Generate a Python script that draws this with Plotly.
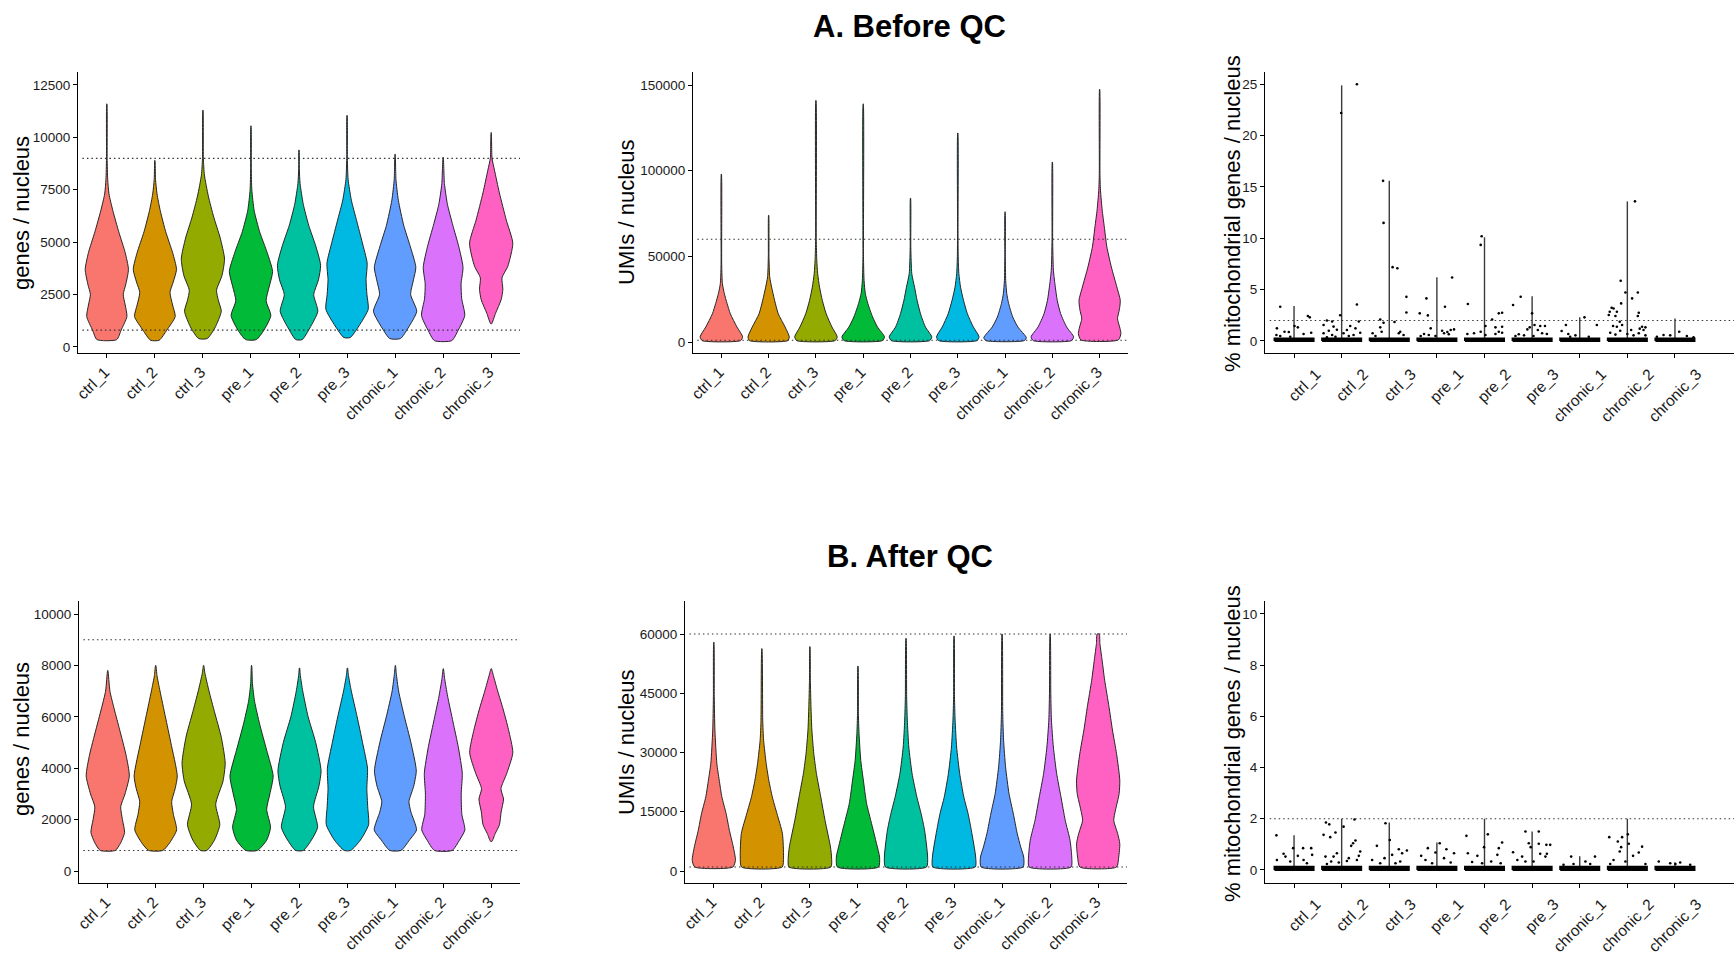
import plotly.graph_objects as go

W, H = 1734, 956

samples = ["ctrl_1", "ctrl_2", "ctrl_3", "pre_1", "pre_2", "pre_3",
           "chronic_1", "chronic_2", "chronic_3"]
colors = ["#F8766D", "#D39200", "#93AA00", "#00BA38", "#00C19F",
          "#00B9E3", "#619CFF", "#DB72FB", "#FF61C3"]

# ---- violin density profiles: value levels and relative half-widths (1 = widest) ----
genes_before_y = [
    [350, 800, 1450, 2000, 2500, 3000, 3700, 4500, 5500, 6500, 7300, 8000, 9000, 11600],
    [320, 800, 1450, 2000, 2600, 3100, 3700, 4500, 5500, 6500, 7300, 8000, 8900],
    [400, 900, 1700, 2200, 2700, 3400, 4200, 5200, 6200, 7200, 8200, 9000, 11300],
    [350, 800, 1500, 2200, 2900, 3600, 4500, 5500, 6500, 7500, 8500, 10550],
    [350, 900, 1700, 2500, 3200, 3900, 4800, 5800, 6800, 7800, 8500, 9400],
    [450, 1000, 1800, 2500, 3200, 4000, 5000, 6000, 7000, 8000, 9000, 11050],
    [400, 900, 1700, 2500, 3200, 3800, 4800, 5800, 7000, 8000, 9200],
    [300, 800, 1500, 2300, 3000, 3800, 4800, 5800, 6800, 7800, 9050],
    [1100, 1600, 2250, 2750, 3300, 3850, 4950, 6050, 7350, 8450, 9000, 10230],
]
genes_before_w = [
    [0.46, 0.66, 0.93, 0.85, 0.76, 0.88, 1.0, 0.85, 0.55, 0.28, 0.1, 0.04, 0.015, 0.004],
    [0.2, 0.55, 0.94, 0.82, 0.7, 0.85, 1.0, 0.82, 0.5, 0.25, 0.1, 0.03, 0.004],
    [0.2, 0.55, 0.85, 0.72, 0.63, 0.88, 1.0, 0.8, 0.5, 0.25, 0.07, 0.02, 0.004],
    [0.25, 0.6, 0.92, 0.7, 0.85, 1.0, 0.75, 0.4, 0.15, 0.04, 0.015, 0.004],
    [0.15, 0.5, 0.87, 0.68, 0.9, 1.0, 0.78, 0.45, 0.2, 0.05, 0.015, 0.004],
    [0.15, 0.55, 0.98, 0.92, 0.88, 0.93, 0.7, 0.45, 0.2, 0.05, 0.015, 0.004],
    [0.25, 0.6, 1.0, 0.72, 0.85, 0.96, 0.7, 0.4, 0.15, 0.04, 0.004],
    [0.4, 0.7, 1.0, 0.86, 0.83, 0.92, 0.72, 0.45, 0.2, 0.06, 0.004],
    [0.02, 0.2, 0.46, 0.54, 0.5, 0.77, 1.0, 0.7, 0.38, 0.15, 0.04, 0.004],
]

umis_before_y = [
    [800, 3000, 8800, 16500, 22400, 28200, 34000, 45000, 98000],
    [800, 3000, 8800, 16500, 24300, 32000, 38000, 50000, 74000],
    [800, 3000, 8800, 16500, 24300, 32000, 40000, 47700, 60000, 141000],
    [800, 3000, 8800, 14600, 22400, 28200, 36000, 50000, 139000],
    [800, 3000, 8800, 16500, 24300, 32000, 40000, 55000, 84000],
    [800, 3000, 8800, 16500, 24300, 32000, 40000, 50000, 65000, 122000],
    [800, 2500, 8800, 14600, 22400, 28200, 36000, 50000, 76000],
    [800, 3000, 8800, 16500, 24300, 32000, 41900, 60000, 105000],
    [1200, 4900, 8800, 13600, 19000, 24300, 32100, 43800, 55500, 67200, 77000, 88600, 98400, 147500],
]
umis_before_w = [
    [0.9, 1.0, 0.73, 0.42, 0.27, 0.14, 0.05, 0.015, 0.004],
    [0.9, 0.97, 0.77, 0.45, 0.28, 0.14, 0.05, 0.015, 0.004],
    [0.9, 1.0, 0.75, 0.48, 0.3, 0.17, 0.08, 0.04, 0.015, 0.004],
    [0.9, 1.0, 0.67, 0.44, 0.22, 0.1, 0.04, 0.012, 0.004],
    [0.9, 1.0, 0.7, 0.47, 0.31, 0.19, 0.06, 0.015, 0.004],
    [0.9, 1.0, 0.73, 0.45, 0.27, 0.13, 0.05, 0.02, 0.01, 0.004],
    [0.9, 1.0, 0.6, 0.36, 0.17, 0.08, 0.03, 0.012, 0.004],
    [0.9, 1.0, 0.67, 0.39, 0.23, 0.14, 0.05, 0.015, 0.004],
    [0.88, 1.0, 0.94, 0.84, 0.93, 0.97, 0.81, 0.55, 0.34, 0.22, 0.12, 0.04, 0.015, 0.004],
]

genes_after_y = [
    [800, 1100, 1500, 2000, 2500, 3000, 3700, 4500, 5500, 6300, 7000, 7800],
    [800, 1100, 1600, 2200, 2700, 3200, 3700, 5000, 6000, 7000, 7600, 8000],
    [800, 1200, 1800, 2600, 3500, 4200, 5200, 6200, 7000, 7700, 8000],
    [800, 1200, 1700, 2400, 3000, 3700, 4700, 5700, 6600, 7300, 8000],
    [800, 1200, 1700, 2500, 3300, 3900, 5000, 6000, 7000, 7600, 7900],
    [800, 1200, 1800, 2500, 3200, 4000, 5000, 6000, 7000, 7600, 7900],
    [800, 1200, 1600, 2300, 2700, 3300, 3900, 5000, 6000, 7000, 7700, 8000],
    [800, 1200, 1600, 2200, 3000, 3800, 4800, 5800, 6800, 7500, 7870],
    [1150, 1450, 1800, 2300, 2800, 3200, 3800, 4600, 5500, 6300, 7000, 7600, 7870],
]
genes_after_w = [
    [0.35, 0.6, 0.78, 0.68, 0.6, 0.8, 1.0, 0.85, 0.55, 0.3, 0.1, 0.006],
    [0.33, 0.65, 0.97, 0.82, 0.74, 0.9, 1.0, 0.7, 0.45, 0.2, 0.06, 0.006],
    [0.15, 0.5, 0.75, 0.56, 0.9, 1.0, 0.82, 0.5, 0.25, 0.06, 0.006],
    [0.27, 0.7, 0.88, 0.7, 0.85, 1.0, 0.7, 0.38, 0.14, 0.04, 0.005],
    [0.18, 0.55, 0.84, 0.65, 0.9, 1.0, 0.75, 0.4, 0.15, 0.04, 0.005],
    [0.15, 0.6, 0.98, 0.94, 0.9, 0.93, 0.7, 0.45, 0.18, 0.05, 0.005],
    [0.26, 0.65, 0.98, 0.72, 0.63, 0.85, 0.97, 0.72, 0.42, 0.15, 0.04, 0.005],
    [0.41, 0.75, 1.0, 0.86, 0.83, 0.88, 0.7, 0.45, 0.2, 0.06, 0.005],
    [0.03, 0.18, 0.38, 0.46, 0.57, 0.45, 0.72, 1.0, 0.8, 0.55, 0.3, 0.1, 0.01],
]

umis_after_y = [
    [1000, 2700, 6100, 10300, 14500, 18800, 23000, 27200, 35700, 44100, 57900],
    [1000, 3500, 9500, 14500, 18800, 23000, 27200, 33100, 38200, 56300],
    [1000, 3500, 6100, 12800, 18800, 24700, 29700, 35700, 41600, 48300, 56800],
    [1000, 3500, 6900, 12000, 17100, 23000, 28000, 34800, 39900, 51900],
    [1000, 3500, 10300, 14500, 18800, 24700, 31400, 38200, 44100, 58900],
    [1000, 3500, 10300, 14500, 18800, 24700, 31400, 38200, 44100, 59500],
    [1000, 3500, 6100, 9500, 14500, 19600, 26400, 33100, 39900, 60000],
    [1000, 3500, 7800, 12800, 18800, 24700, 31400, 38200, 45000, 60000],
    [1000, 3500, 6900, 9500, 12800, 15400, 19600, 23000, 29700, 35700, 41600, 48300, 53400, 57600, 60000],
]
umis_after_w = [
    [0.88, 1.0, 0.9, 0.72, 0.57, 0.37, 0.25, 0.14, 0.05, 0.02, 0.004],
    [0.94, 1.0, 0.95, 0.7, 0.48, 0.32, 0.2, 0.08, 0.04, 0.004],
    [0.97, 1.0, 0.95, 0.7, 0.5, 0.3, 0.18, 0.09, 0.05, 0.02, 0.004],
    [0.95, 1.0, 0.86, 0.63, 0.4, 0.25, 0.13, 0.05, 0.02, 0.004],
    [0.95, 1.0, 0.86, 0.7, 0.5, 0.28, 0.13, 0.06, 0.03, 0.004],
    [0.98, 1.0, 0.8, 0.65, 0.45, 0.26, 0.12, 0.05, 0.02, 0.004],
    [0.97, 1.0, 0.86, 0.7, 0.52, 0.32, 0.16, 0.07, 0.03, 0.004],
    [0.97, 1.0, 0.92, 0.7, 0.5, 0.3, 0.15, 0.06, 0.03, 0.004],
    [0.85, 0.95, 1.0, 0.9, 0.72, 0.8, 0.97, 1.0, 0.85, 0.66, 0.5, 0.3, 0.18, 0.08, 0.05],
]

# ---- % mitochondrial genes: per-sample maximum and individual nuclei above the dense band ----
mito_before_max = [3.4, 24.9, 15.6, 6.2, 10.1, 4.35, 2.3, 13.6, 2.2]
mito_after_max = [1.35, 2.0, 1.85, 1.07, 2.0, 1.5, 0.53, 2.0, 0.3]
mito_before_band = 0.25
mito_after_band = 0.12

mito_before_dx = [
    [-0.29, 0.29, 0.33, -0.36, 0.01, 0.08, -0.2, -0.11, 0.36, 0.2, -0.37, -0.29, -0.08],
    [-0.01, 0.32, 0.32, -0.03, -0.31, -0.2, -0.38, -0.17, 0.18, 0.36, -0.1, -0.27, 0.11, 0.29, -0.38, -0.2, 0.04, 0.25, 0.39, -0.13, 0.15, -0.31],
    [-0.13, -0.12, 0.07, 0.17, 0.36, 0.36, -0.19, 0.11, -0.12, -0.19, -0.35, -0.16, 0.23, 0.2, 0.3, -0.29],
    [0.32, -0.22, 0.17, -0.36, -0.19, -0.13, 0.29, 0.36, 0.11, 0.15, -0.27, -0.17, 0.25, -0.03, -0.34, 0.22],
    [-0.06, -0.08, -0.35, 0.3, 0.37, 0.16, 0.02, 0.23, 0.37, 0.3, -0.08, -0.22, -0.36, 0.23, 0.37, 0.02],
    [-0.4, -0.24, 0.0, 0.05, 0.17, 0.27, -0.05, -0.1, 0.12, 0.31, 0.21, -0.28, -0.17, 0.03, -0.35],
    [0.1, -0.29, 0.36, -0.24, -0.09, -0.38, 0.19, -0.2],
    [0.16, -0.14, -0.04, 0.22, 0.1, -0.13, -0.33, -0.29, -0.37, -0.22, -0.39, -0.25, 0.24, 0.22, -0.16, -0.3, -0.22, -0.11, 0.31, 0.38, 0.26, 0.34, 0.08, -0.15, -0.36, 0.24, 0.0, -0.25, 0.13, 0.38],
    [0.09, -0.24, -0.1, 0.25, -0.38, 0.39],
]
mito_before_val = [
    [3.33, 2.43, 2.3, 1.23, 1.46, 1.33, 0.9, 0.87, 0.8, 0.68, 0.58, 0.49, 0.42],
    [22.2, 25.0, 3.56, 2.5, 2.0, 1.9, 1.55, 1.4, 1.46, 1.9, 1.1, 1.0, 1.07, 1.23, 0.75, 0.58, 0.75, 0.58, 0.8, 0.42, 0.49, 0.36],
    [15.6, 11.5, 7.19, 7.09, 4.3, 2.78, 2.1, 1.85, 1.78, 1.33, 0.75, 0.9, 0.9, 0.75, 0.58, 0.49],
    [6.19, 4.15, 3.34, 2.69, 2.49, 1.23, 1.07, 1.13, 1.0, 0.75, 0.68, 0.58, 0.65, 0.49, 0.49, 0.87],
    [10.2, 9.36, 3.6, 2.69, 2.75, 2.1, 1.46, 1.33, 1.39, 0.9, 0.9, 0.75, 0.68, 0.68, 0.8, 0.58],
    [3.5, 4.31, 2.69, 1.55, 1.46, 1.46, 1.33, 1.13, 1.07, 0.68, 0.75, 0.65, 0.55, 0.49, 0.49],
    [2.3, 1.55, 1.55, 0.68, 0.55, 0.97, 0.42, 0.42],
    [13.6, 5.86, 4.73, 4.73, 4.15, 3.66, 3.24, 3.17, 2.85, 2.85, 2.53, 2.43, 2.75, 2.43, 1.88, 1.46, 1.39, 1.55, 1.39, 1.33, 1.2, 1.07, 1.07, 1.0, 0.8, 0.75, 0.68, 0.62, 0.55, 0.55],
    [0.9, 0.58, 0.55, 0.49, 0.42, 0.36],
]

mito_after_dx = [
    [-0.37, -0.22, -0.18, -0.02, 0.08, 0.19, 0.36, 0.38, -0.36, 0.2, -0.08, 0.27],
    [-0.33, -0.26, -0.38, -0.13, -0.24, 0.04, 0.29, 0.24, 0.2, 0.39, -0.34, -0.1, -0.17, 0.11, 0.36, -0.22, -0.06, 0.32, 0.15, -0.31, 0.27],
    [-0.08, -0.26, 0.01, 0.2, 0.37, 0.27, 0.06, -0.1, -0.36, 0.23, -0.19, 0.13],
    [-0.19, 0.06, 0.2, 0.36, -0.03, -0.33, -0.24, 0.15, 0.29, -0.1],
    [-0.38, 0.07, -0.35, -0.15, 0.3, 0.37, 0.27, 0.14, -0.05, -0.26, 0.34, -0.01],
    [-0.14, 0.14, -0.4, -0.07, -0.03, 0.14, 0.3, 0.38, 0.31, 0.28, 0.17, -0.21, -0.31, 0.03, -0.14],
    [-0.18, 0.32, 0.12, -0.34, -0.13, 0.22],
    [-0.38, -0.11, 0.03, -0.2, -0.13, -0.16, 0.01, 0.31, 0.12, 0.24, -0.29, -0.36, -0.04, 0.38],
    [-0.34, -0.1, 0.11, 0.01, 0.32],
]
mito_after_val = [
    [1.35, 0.63, 0.52, 0.85, 0.55, 0.85, 0.85, 0.59, 0.39, 0.39, 0.33, 0.26],
    [1.85, 1.78, 1.37, 1.46, 1.28, 1.69, 1.15, 1.04, 0.94, 0.72, 0.52, 0.65, 0.52, 0.35, 0.55, 0.33, 0.29, 0.39, 0.46, 0.23, 1.97],
    [1.82, 0.94, 1.17, 0.81, 0.76, 0.65, 0.59, 0.46, 0.39, 0.33, 0.26, 0.26],
    [0.85, 1.04, 0.81, 0.65, 0.68, 0.55, 0.39, 0.46, 0.29, 0.26],
    [1.33, 1.39, 0.65, 0.55, 0.85, 1.07, 0.59, 0.33, 0.26, 0.31, 0.26, 0.89],
    [1.5, 1.5, 0.69, 1.04, 0.89, 1.02, 0.98, 0.98, 0.63, 0.52, 0.63, 0.52, 0.39, 0.33, 0.33],
    [0.52, 0.52, 0.33, 0.2, 0.23, 0.23],
    [1.28, 1.28, 1.02, 1.11, 0.89, 0.72, 1.39, 0.91, 0.55, 0.68, 0.39, 0.23, 0.33, 0.23],
    [0.33, 0.26, 0.29, 0.23, 0.2],
]

# QC thresholds drawn as dotted reference lines
genes_cutoffs = [800, 9000]
umis_cutoffs = [1000, 60000]
mito_cutoffs = [2]

# ---------------------------------------------------------------------------
FONT = "Liberation Sans, Arial, sans-serif"
OUTLINE = "#262626"
HALF = 0.45  # maximum half-width of a violin in category units
positions = list(range(1, len(samples) + 1))

# panel boxes in pixels: (left, right, top, bottom)
panels = [
    (78, 520, 72, 353), (693, 1128, 72, 353), (1265, 1734, 72, 353),
    (79, 520, 601, 883), (685, 1127, 601, 883), (1265, 1734, 601, 883),
]
y_ranges = [[-290, 13120], [-6420, 157600], [-1.17, 26.2],
            [-467, 10506], [-3038, 68354], [-0.51, 10.5]]
y_ticks = [list(range(0, 12501, 2500)), [0, 50000, 100000, 150000], [0, 5, 10, 15, 20, 25],
           list(range(0, 10001, 2000)), [0, 15000, 30000, 45000, 60000], [0, 2, 4, 6, 8, 10]]
x_ranges = [[0.4, 9.6], [0.4, 9.6], [0.39, 10.24], [0.4, 9.6], [0.4, 9.6], [0.39, 10.24]]
y_titles = ["genes / nucleus", "UMIs / nucleus", "% mitochondrial genes / nucleus"] * 2
y_title_pos = [(21, 213), (627, 212), (1232, 214), (21, 739), (626, 742), (1232, 744)]

fig = go.Figure()


def ax_names(i):
    s = "" if i == 0 else str(i + 1)
    return "x" + s, "y" + s


def add_violins(i, ys_all, ws_all):
    xa, ya = ax_names(i)
    for cx, ys, ws, col in zip(positions, ys_all, ws_all, colors):
        xr = [cx + w * HALF for w in ws]
        xl = [cx - w * HALF for w in ws][::-1]
        fig.add_trace(go.Scatter(
            x=xr + xl + [xr[0]], y=list(ys) + list(ys)[::-1] + [ys[0]],
            mode="lines", fill="toself", fillcolor=col,
            line=dict(color=OUTLINE, width=1.0, shape="spline", smoothing=0.6),
            xaxis=xa, yaxis=ya, hoverinfo="skip", showlegend=False))


def add_mito(i, maxima, band, dx_all, val_all):
    xa, ya = ax_names(i)
    lx, ly = [], []
    for cx, m in zip(positions, maxima):
        lx += [cx, cx, None]
        ly += [0, m, None]
    fig.add_trace(go.Scatter(x=lx, y=ly, mode="lines",
                             line=dict(color="#3a3a3a", width=1.4),
                             xaxis=xa, yaxis=ya, hoverinfo="skip", showlegend=False))
    for cx in positions:
        w = 0.41
        fig.add_trace(go.Scatter(
            x=[cx - w, cx + w, cx + w, cx - w, cx - w], y=[0, 0, band, band, 0],
            mode="lines", fill="toself", fillcolor="#000000",
            line=dict(color="#000000", width=2),
            xaxis=xa, yaxis=ya, hoverinfo="skip", showlegend=False))
    px, py = [], []
    for cx, dxs, vals in zip(positions, dx_all, val_all):
        px += [cx + d for d in dxs]
        py += vals
    fig.add_trace(go.Scatter(x=px, y=py, mode="markers",
                             marker=dict(color="#000000", size=2.6),
                             xaxis=xa, yaxis=ya, hoverinfo="skip", showlegend=False))


add_violins(0, genes_before_y, genes_before_w)
add_violins(1, umis_before_y, umis_before_w)
add_mito(2, mito_before_max, mito_before_band, mito_before_dx, mito_before_val)
add_violins(3, genes_after_y, genes_after_w)
add_violins(4, umis_after_y, umis_after_w)
add_mito(5, mito_after_max, mito_after_band, mito_after_dx, mito_after_val)

cutoffs = [genes_cutoffs, umis_cutoffs, mito_cutoffs] * 2
shapes = []
layout_axes = {}
for i, (l, r, t, b) in enumerate(panels):
    xa, ya = ax_names(i)
    xkey = "xaxis" + ("" if i == 0 else str(i + 1))
    ykey = "yaxis" + ("" if i == 0 else str(i + 1))
    mito = i in (2, 5)
    layout_axes[xkey] = dict(
        domain=[l / W, r / W], anchor=ya, range=x_ranges[i], automargin=False,
        tickmode="array", tickvals=positions, ticktext=samples, tickangle=-45,
        tickfont=dict(family=FONT, size=15.5, color="#1a1a1a"),
        showline=True, linecolor="#000000", linewidth=1.2,
        ticks="outside", ticklen=4, tickcolor="#000000", tickwidth=1,
        showgrid=False, zeroline=False, fixedrange=True,
        ticklabelshift=22 if mito else -2, ticklabelstandoff=1 if mito else -1,
    )
    layout_axes[ykey] = dict(
        domain=[1 - b / H, 1 - t / H], anchor=xa, range=y_ranges[i], automargin=False,
        tickmode="array", tickvals=y_ticks[i], ticktext=[str(v) for v in y_ticks[i]],
        tickfont=dict(family=FONT, size=13.5, color="#1a1a1a"),
        showline=True, linecolor="#000000", linewidth=1.2,
        ticks="outside", ticklen=4, tickcolor="#000000", tickwidth=1,
        showgrid=False, zeroline=False, fixedrange=True,
    )
    for c in cutoffs[i]:
        shapes.append(dict(type="line", xref=xa + " domain", yref=ya,
                           x0=0.01, x1=1, y0=c, y1=c,
                           line=dict(color="#333333", width=1.1, dash="1.5px,3px"),
                           layer="above"))

annotations = [
    dict(text="<b>A. Before QC</b>", x=909 / W, y=1 - 26 / H, xref="paper", yref="paper",
         showarrow=False, font=dict(family=FONT, size=31, color="#000000"),
         xanchor="center", yanchor="middle"),
    dict(text="<b>B. After QC</b>", x=910 / W, y=1 - 556 / H, xref="paper", yref="paper",
         showarrow=False, font=dict(family=FONT, size=31, color="#000000"),
         xanchor="center", yanchor="middle"),
]
for txt, (px_, py_) in zip(y_titles, y_title_pos):
    annotations.append(dict(text=txt, x=px_ / W, y=1 - py_ / H, xref="paper", yref="paper",
                            showarrow=False, textangle=-90,
                            font=dict(family=FONT, size=22, color="#000000"),
                            xanchor="center", yanchor="middle"))

fig.update_layout(
    width=W, height=H, margin=dict(l=0, r=0, t=0, b=0, autoexpand=False),
    paper_bgcolor="#ffffff", plot_bgcolor="#ffffff",
    showlegend=False, shapes=shapes, annotations=annotations,
    **layout_axes,
)

fig.write_html("out.html")
